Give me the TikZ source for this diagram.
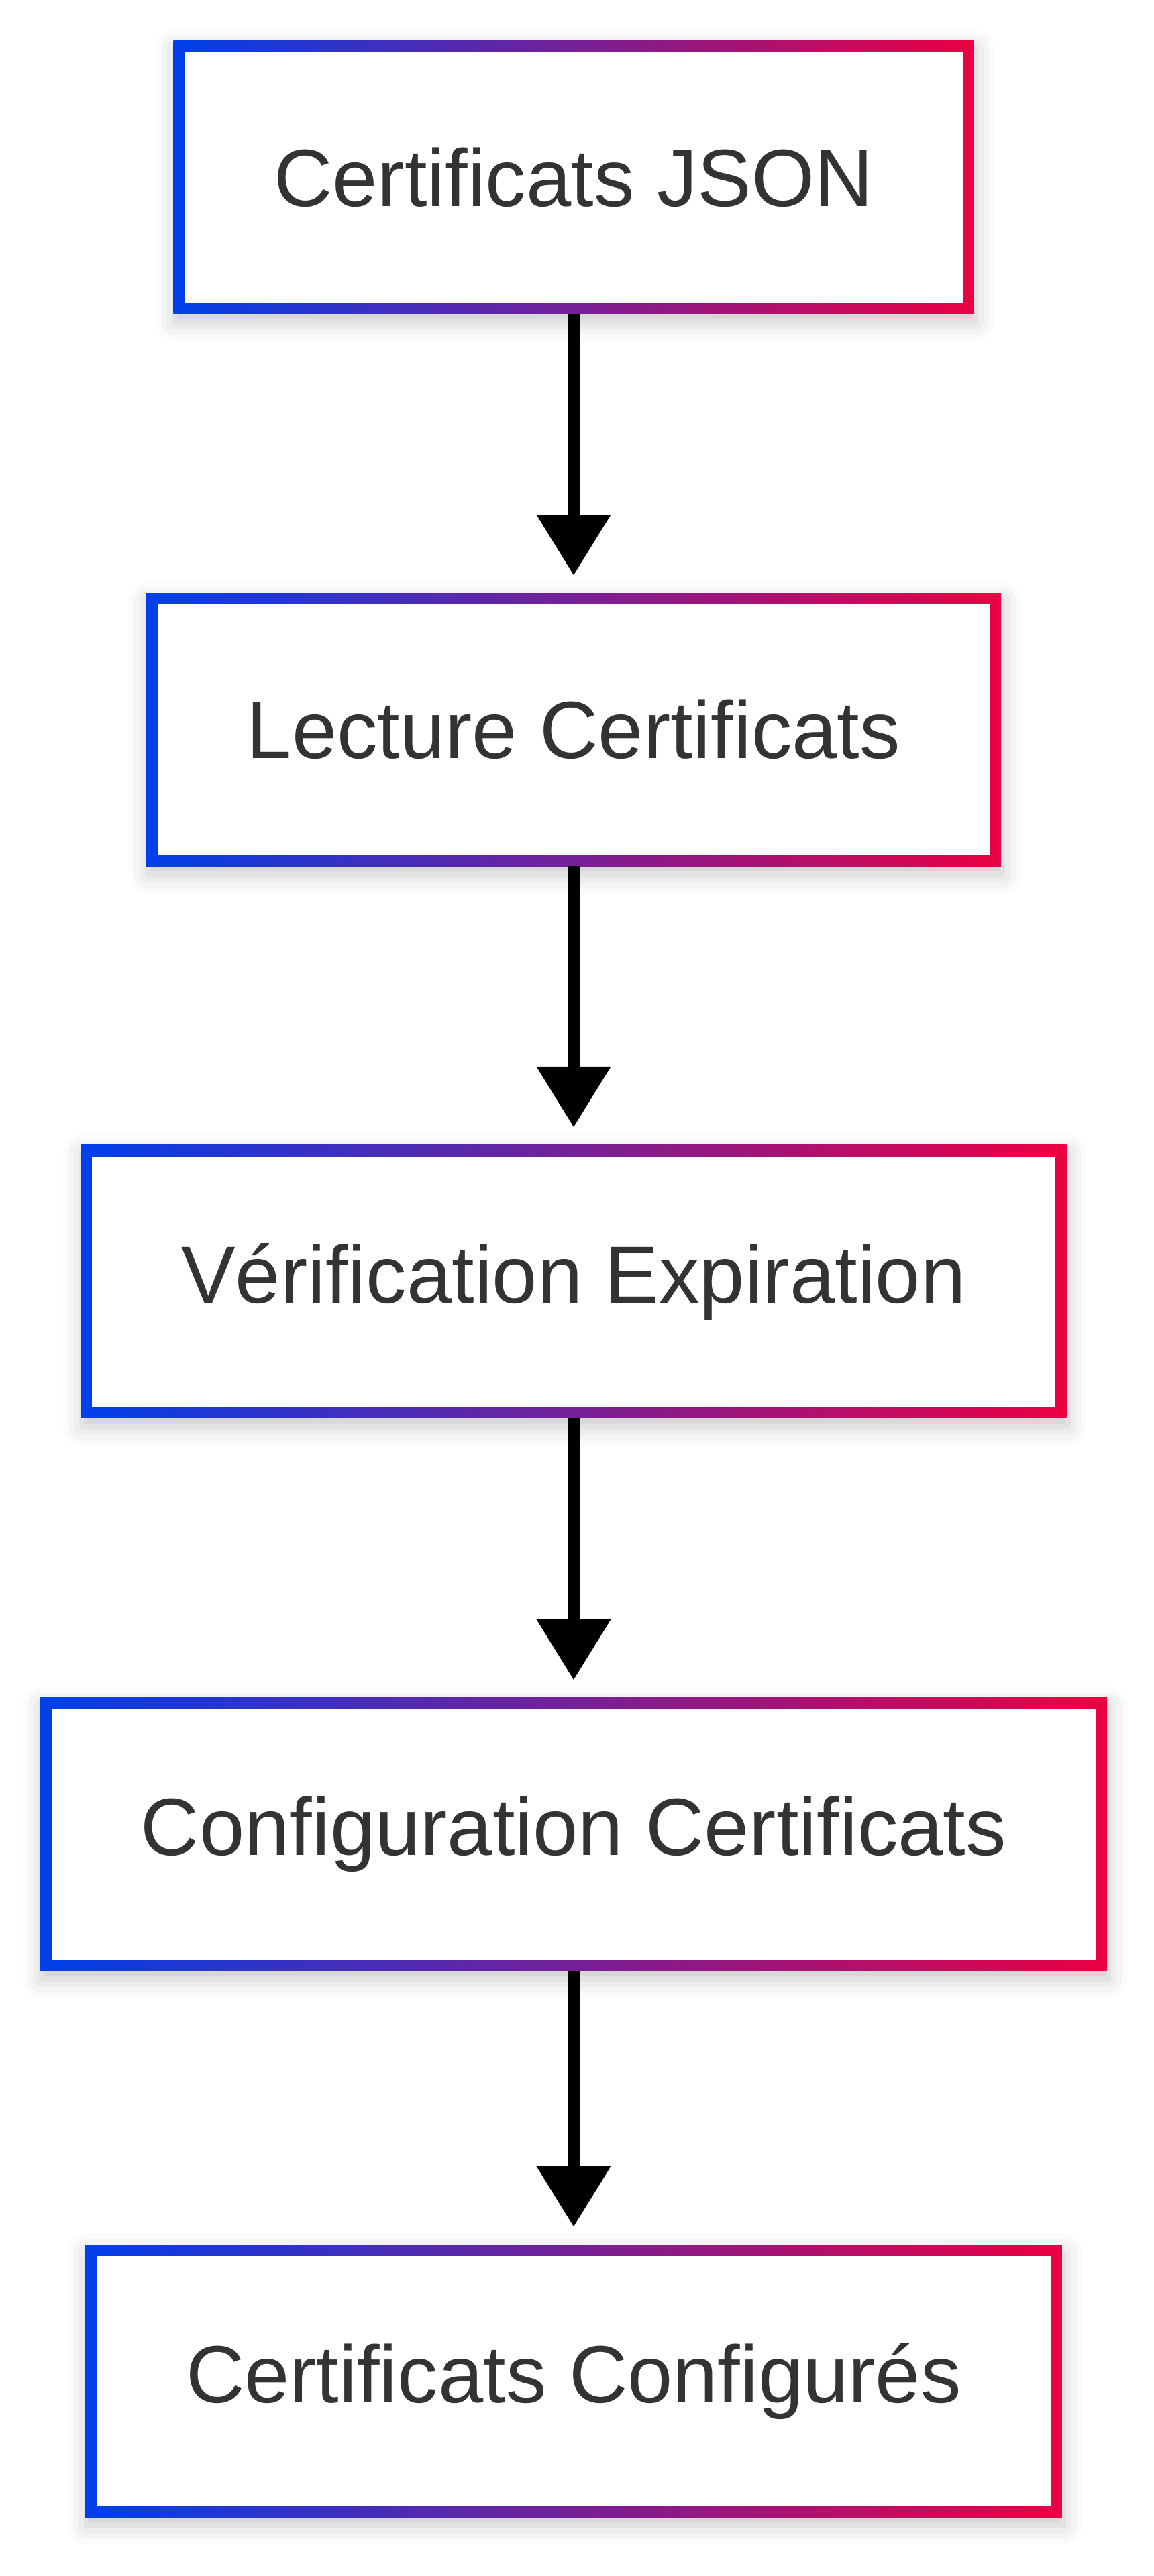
\documentclass[tikz,border=0pt]{standalone}
\usepackage{fontspec}
\setmainfont{Liberation Sans}
\usepackage{tikz}
\usetikzlibrary{arrows.meta, shadows.blur}
\usepackage{xcolor}
\definecolor{edgeblue}{HTML}{0040EA}
\definecolor{edgered}{HTML}{EB0043}
\definecolor{labelgray}{HTML}{333333}

\begin{document}
\begin{tikzpicture}[
  stepbox/.style={rectangle, left color=edgeblue, right color=edgered,
    minimum height=10.175cm, inner xsep=3.75cm, outer sep=0pt,
    text=labelgray, font=\fontsize{86}{100}\selectfont,
    blur shadow={shadow xshift=0.05cm, shadow yshift=-0.3cm,
      shadow blur radius=0.7cm, shadow opacity=22},
    path picture={\fill[white]
      ([shift={(0.425,-0.425)}]path picture bounding box.north west) rectangle
      ([shift={(-0.425,0.425)}]path picture bounding box.south east);}},
  flow/.style={-{Triangle[length=2.25cm, width=2.775cm, line width=0pt]},
    line width=0.425cm, shorten >=0.675cm}]
\useasboundingbox (0,0) rectangle (42.975,-96);
\node[stepbox] (json) at (21.375,-6.6) {Certificats JSON};
\node[stepbox] (lecture) at (21.375,-27.19) {Lecture Certificats};
\node[stepbox] (verif) at (21.375,-47.76) {Vérification Expiration};
\node[stepbox] (config) at (21.375,-68.36) {Configuration Certificats};
\node[stepbox] (done) at (21.375,-88.74) {Certificats Configurés};
\draw[flow] (json.south) -- (lecture.north);
\draw[flow] (lecture.south) -- (verif.north);
\draw[flow] (verif.south) -- (config.north);
\draw[flow] (config.south) -- (done.north);
\end{tikzpicture}
\end{document}
